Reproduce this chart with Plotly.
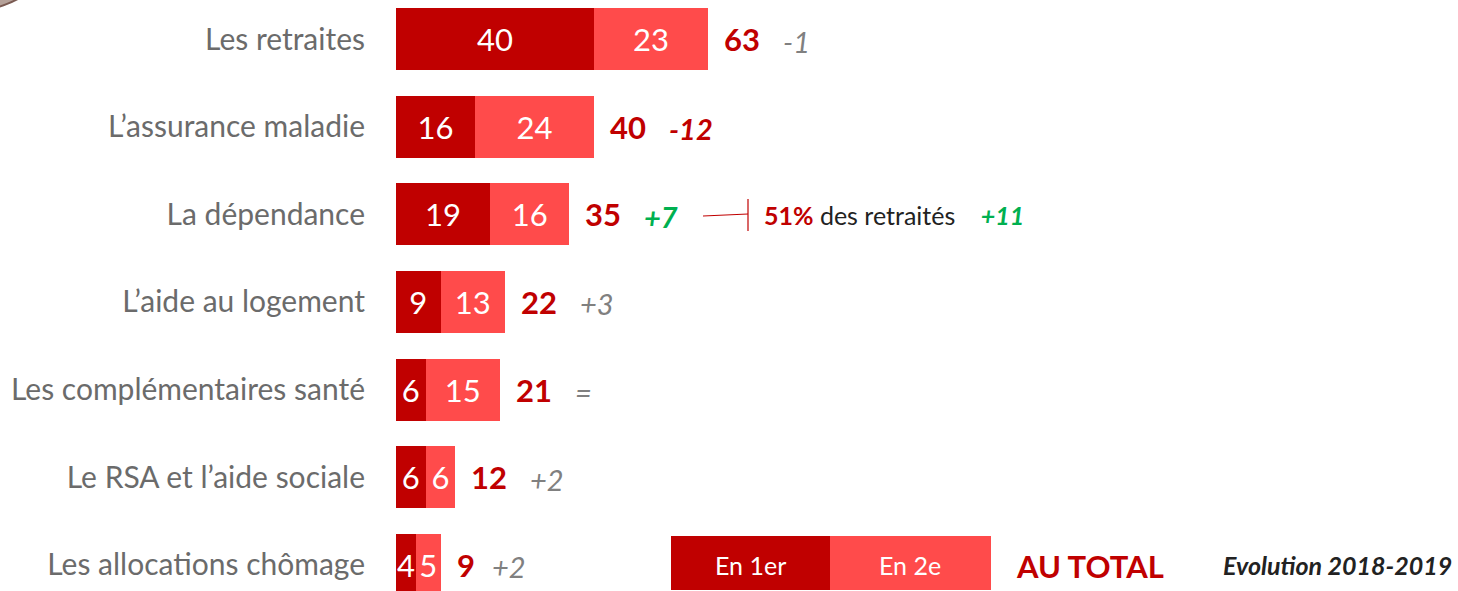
import plotly.graph_objects as go

categories = ["Les retraites", "L’assurance maladie", "La dépendance",
              "L’aide au logement", "Les complémentaires santé",
              "Le RSA et l’aide sociale", "Les allocations chômage"]
en_1er = [40, 16, 19, 9, 6, 6, 4]
en_2e = [23, 24, 16, 13, 15, 6, 5]
totals = [63, 40, 35, 22, 21, 12, 9]
evolution = [-1, -12, 7, 3, 0, 2, 2]

DARK_RED = "#C00000"
LIGHT_RED = "#FF4B4B"
GREEN = "#00B050"
GRAY = "#808080"
FONT = "Lato"

W, H = 1458, 591
X0 = 396  # left edge of bars, px


def px(x):
    return x / W


def py(y):
    return 1 - y / H


def evol_text(v):
    if v == 0:
        return "="
    return f"{v:+d}"


fig = go.Figure()

fig.add_trace(go.Bar(y=categories, x=en_1er, orientation="h", name="En 1er",
                     marker=dict(color=DARK_RED, line=dict(width=0)),
                     text=en_1er, textposition="inside", insidetextanchor="middle",
                     constraintext="none",
                     textfont=dict(family=FONT, size=31, color="white"),
                     hoverinfo="skip"))
fig.add_trace(go.Bar(y=categories, x=en_2e, orientation="h", name="En 2e",
                     marker=dict(color=LIGHT_RED, line=dict(width=0)),
                     text=en_2e, textposition="inside", insidetextanchor="middle",
                     constraintext="none",
                     textfont=dict(family=FONT, size=31, color="white"),
                     hoverinfo="skip"))

annotations = []
for cat, tot, ev in zip(categories, totals, evolution):
    annotations.append(dict(x=tot, y=cat, xref="x", yref="y", text=f"<b>{tot}</b>",
                            showarrow=False, xanchor="left", xshift=14,
                            font=dict(family=FONT, size=31, color=DARK_RED)))
    shift = 25 + 24 * len(str(tot))
    if ev <= -5:
        txt, col = f"<b><i>{evol_text(ev)}</i></b>", DARK_RED
    elif ev >= 5:
        txt, col = f"<b><i>{evol_text(ev)}</i></b>", GREEN
    else:
        txt, col = f"<i>{evol_text(ev)}</i>", GRAY
    annotations.append(dict(x=tot, y=cat, xref="x", yref="y", text=txt,
                            showarrow=False, xanchor="left", xshift=shift, yshift=-2,
                            font=dict(family=FONT, size=29, color=col)))

# callout for La dépendance
annotations.append(dict(x=px(762), y=py(215), xref="paper", yref="paper",
                        text=f"<span style='color:{DARK_RED}'><b>51%</b></span> des retraités    "
                             f"<span style='color:{GREEN}'><b><i>+11</i></b></span>",
                        showarrow=False, xanchor="left",
                        font=dict(family=FONT, size=25, color="#222222")))

# legend (aligned on the last row)
last = categories[-1]
annotations += [
    dict(x=px(750), y=last, xref="paper", yref="y", text="En 1er", showarrow=False,
         font=dict(family=FONT, size=25, color="white")),
    dict(x=px(910), y=last, xref="paper", yref="y", text="En 2e", showarrow=False,
         font=dict(family=FONT, size=25, color="white")),
    dict(x=px(1014), y=last, xref="paper", yref="y", text="<b>AU TOTAL</b>",
         showarrow=False, xanchor="left", yshift=-1,
         font=dict(family=FONT, size=31, color=DARK_RED)),
    dict(x=px(1454), y=last, xref="paper", yref="y",
         text="<b><i>Evolution 2018-2019</i></b>", showarrow=False, xanchor="right",
         font=dict(family=FONT, size=25, color="#222222")),
]

shapes = [
    dict(type="rect", xref="paper", yref="paper", x0=px(671), x1=px(830),
         y0=py(590), y1=py(536), fillcolor=DARK_RED, line=dict(width=0), layer="below"),
    dict(type="rect", xref="paper", yref="paper", x0=px(830), x1=px(991),
         y0=py(590), y1=py(536), fillcolor=LIGHT_RED, line=dict(width=0), layer="below"),
    dict(type="line", xref="paper", yref="paper", x0=px(703), x1=px(748),
         y0=py(216), y1=py(214), line=dict(color=DARK_RED, width=1.2)),
    dict(type="line", xref="paper", yref="paper", x0=px(748), x1=px(748),
         y0=py(199), y1=py(231), line=dict(color=DARK_RED, width=1.2)),
    # decorative circle in the top-left corner
    dict(type="circle", xref="paper", yref="paper", x0=px(-131), x1=px(71),
         y0=py(11), y1=py(-191), fillcolor="#B5A199",
         line=dict(color="#7A5A52", width=2)),
]

fig.update_layout(
    width=W, height=H,
    barmode="stack", bargap=0.293,
    showlegend=False,
    plot_bgcolor="white", paper_bgcolor="white",
    margin=dict(l=0, r=0, t=0, b=0),
    font=dict(family=FONT),
    xaxis=dict(domain=[X0 / W, 1], range=[0, (W - X0) / 4.95],
               visible=False, fixedrange=True),
    yaxis=dict(type="category", categoryorder="array", categoryarray=categories,
               range=[6.297, -0.445], showgrid=False, zeroline=False, showline=False,
               ticks="", ticklabelstandoff=30, automargin=False,
               tickfont=dict(family=FONT, size=30, color="#6B6B6B")),
    annotations=annotations,
    shapes=shapes,
)

fig.write_html("out.html", config={"displayModeBar": False},
               post_script="document.body.style.margin='0';document.body.style.overflow='hidden';")
